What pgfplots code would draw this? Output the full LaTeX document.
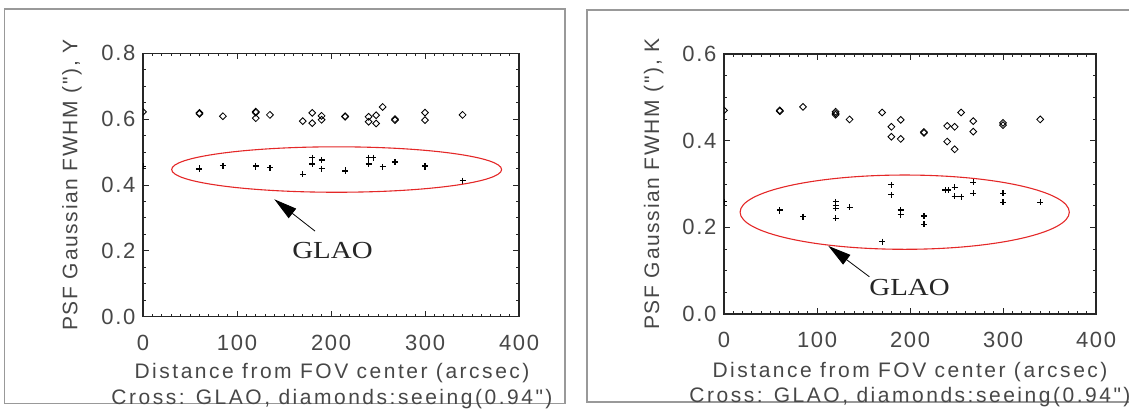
\documentclass[border=0pt]{standalone}
\usepackage{fontspec}
\usepackage{pgfplots}
\pgfplotsset{compat=1.18}
\usetikzlibrary{arrows.meta}
\newfontfamily\idl[LetterSpace=12]{Liberation Sans}
\newfontfamily\idly[LetterSpace=8]{Liberation Sans}
\newfontfamily\idlt[LetterSpace=7.5]{Liberation Sans}
\newfontfamily\glaofont{Liberation Serif}
\newcommand\tickfont{\idlt\fontsize{22bp}{26bp}\selectfont}
\newcommand\labfont{\idl\fontsize{21bp}{25bp}\selectfont}
\newcommand\ylabfont{\idly\fontsize{21bp}{25bp}\selectfont}
\definecolor{txt}{gray}{0.28}
\definecolor{ellred}{RGB}{228,40,40}

\pgfplotsset{
 idl/.style={
  scale only axis, xmin=0, xmax=400,
  xtick={0,100,200,300,400}, xticklabels={0,100,200,300,400},
  minor x tick num=9, minor y tick num=3,
  tick align=inside, major tick length=6bp, minor tick length=3bp,
  every tick/.append style={black!85, line width=0.9bp},
  axis line style={black!85, line width=1.1bp},
  tick label style={text=txt, font=\tickfont, inner sep=0pt},
  yticklabel style={anchor=east, xshift=-7.5bp},
  xticklabel style={anchor=base, yshift=-33.3bp},
  every axis y label/.style={at={(axis description cs:-0.189,0.5)}, rotate=90, anchor=center, font=\ylabfont, text=txt},
  clip marker paths=true,
 },
 diam/.style={only marks, mark=square, mark size=2.4bp, mark options={rotate=45, black, line width=0.85bp}},
 crs/.style={only marks, mark=+, mark size=3bp, mark options={black, line width=1.2bp}},
}

\begin{document}
\begin{tikzpicture}[x=1bp,y=1bp]
\useasboundingbox (0,0) rectangle (1129,410);
\draw[gray!80, line width=1.3bp] (4.5,6.5) rectangle (565,401);
\draw[gray!80, line width=1.3bp] (1135,400) -- (587,400) -- (587,8) -- (1135,8);

% ---------------- Left panel (Y band)
\begin{axis}[idl, at={(143bp,93.3bp)}, anchor=south west, width=376bp, height=263.4bp,
  ymin=0, ymax=0.8, ytick={0,0.2,0.4,0.6,0.8}, yticklabels={0.0,0.2,0.4,0.6,0.8},
  ylabel={PSF Gaussian FWHM ("), Y}]
\addplot[diam] coordinates {
 (0,0.622) (60,0.616) (60,0.619) (85,0.609) (120,0.620) (120,0.603) (120,0.623)
 (135,0.613) (170,0.594) (180,0.619) (180,0.588) (190,0.610) (190,0.598)
 (215,0.607) (215,0.609) (240,0.607) (240,0.592) (248,0.612) (248,0.587)
 (255,0.637) (268,0.597) (268,0.600) (300,0.620) (300,0.597) (340,0.613)
};
\addplot[crs] coordinates {
 (0,0.457) (60,0.448) (60,0.451) (85,0.459) (120,0.456) (120,0.458) (135,0.452)
 (170,0.432) (180,0.483) (180,0.464) (190,0.476) (190,0.450) (215,0.442) (215,0.445)
 (240,0.483) (240,0.464) (245,0.483) (255,0.455) (268,0.470) (300,0.455) (300,0.458)
 (340,0.413)
};
\draw[ellred, line width=1.1bp] (axis cs:206,0.447) ellipse [x radius=175.5, y radius=0.069];
\draw[black, line width=0.8bp, -{Triangle[length=23bp,width=12bp]}] (axis cs:183,0.260) -- (axis cs:139.7,0.3566);
\node[font=\glaofont\fontsize{24.5bp}{28bp}\selectfont, anchor=base, text=black!85, inner sep=0pt] at (axis cs:201.6,0.1774) {\scalebox{1.18}[1]{GLAO}};
\end{axis}
\node[font=\labfont, text=txt, anchor=base, inner sep=0pt] at (332,32) {Distance from FOV center (arcsec)};
\node[font=\labfont, text=txt, anchor=base, inner sep=0pt] at (332,6) {Cross: GLAO, diamonds:seeing(0.94")};

% ---------------- Right panel (K band)
\begin{axis}[idl, at={(724bp,96bp)}, anchor=south west, width=372bp, height=260bp,
  ymin=0, ymax=0.6, ytick={0,0.2,0.4,0.6}, yticklabels={0.0,0.2,0.4,0.6},
  ylabel={PSF Gaussian FWHM ("), K}]
\addplot[diam] coordinates {
 (0,0.470) (60,0.468) (60,0.470) (85,0.478) (120,0.467) (120,0.4635) (120,0.460)
 (135,0.449) (170,0.465) (180,0.432) (180,0.409) (190,0.448) (190,0.404)
 (215,0.418) (215,0.420) (240,0.434) (240,0.398) (248,0.432) (248,0.380)
 (255,0.465) (268,0.445) (268,0.421) (300,0.441) (300,0.436) (340,0.449)
};
\addplot[crs] coordinates {
 (0,0.259) (60,0.238) (60,0.240) (85,0.225) (120,0.259) (120,0.250) (120,0.244) (120,0.221)
 (135,0.246) (170,0.167) (180,0.298) (180,0.275) (190,0.240) (190,0.229)
 (215,0.226) (215,0.207) (238,0.286) (241,0.286) (248,0.292) (248,0.272)
 (255,0.271) (268,0.304) (268,0.279) (300,0.279) (300,0.258) (340,0.258)
};
\draw[ellred, line width=1.1bp] (axis cs:194.3,0.235) ellipse [x radius=177, y radius=0.0857];
\draw[black, line width=0.8bp, -{Triangle[length=23bp,width=12bp]}] (axis cs:156.3,0.086) -- (axis cs:112.2,0.157);
\node[font=\glaofont\fontsize{24.5bp}{28bp}\selectfont, anchor=base, text=black!85, inner sep=0pt] at (axis cs:199.5,0.0422) {\scalebox{1.18}[1]{GLAO}};
\end{axis}
\node[font=\labfont, text=txt, anchor=base, inner sep=0pt] at (910,33) {Distance from FOV center (arcsec)};
\node[font=\labfont, text=txt, anchor=base, inner sep=0pt] at (910,8) {Cross: GLAO, diamonds:seeing(0.94")};
\end{tikzpicture}
\end{document}
